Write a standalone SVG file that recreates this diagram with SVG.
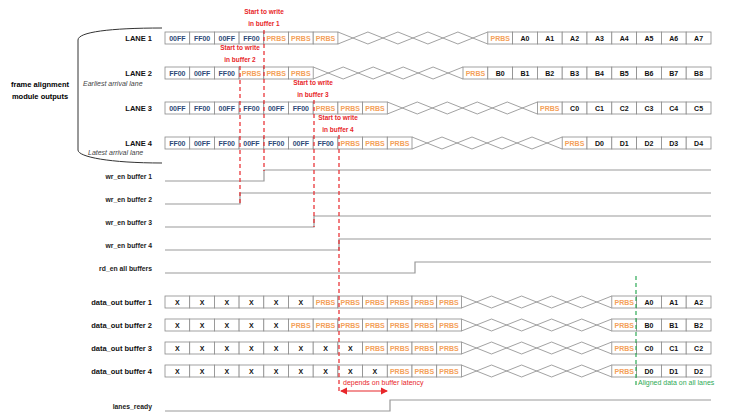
<svg xmlns="http://www.w3.org/2000/svg" width="738" height="417" viewBox="0 0 738 417">
<style>
text{font-family:"Liberation Sans",Arial,sans-serif}
.c{fill:#fff;stroke:#8a8a8a;stroke-width:0.8}
.b{fill:#2e4a78;font-size:7px;font-weight:bold;text-anchor:middle}
.o{fill:#f4a15a;font-size:7px;font-weight:bold;text-anchor:middle}
.k{fill:#111;font-size:7px;font-weight:bold;text-anchor:middle}
.x{fill:none;stroke:#8a8a8a;stroke-width:0.8}
.lb{font-size:7.5px;font-weight:bold;fill:#111;text-anchor:end}
.sl{font-size:6.8px;font-weight:bold;fill:#222;text-anchor:end}
.it{font-size:7px;font-style:italic;fill:#444}
.r{font-size:6.5px;font-weight:bold;fill:#e8262a;text-anchor:middle}
.sig{fill:none;stroke:#999;stroke-width:1.2}
.rd{stroke:#e8262a;stroke-width:1.2;stroke-dasharray:4,3;fill:none}
.gd{stroke:#2eaa55;stroke-width:1.2;stroke-dasharray:4,3;fill:none}
</style>
<defs>
<marker id="ah" markerWidth="6" markerHeight="6" refX="5" refY="3" orient="auto-start-reverse"><path d="M0,0 L6,3 L0,6z" fill="#e8262a"/></marker>
</defs>
<g id="brace">
<path d="M162,28 C110,28 78,32 78,40 L78,150 C78,157 110,163 162,163" fill="none" stroke="#333" stroke-width="1"/>
<text x="40" y="87" style="font-size:7.5px;font-weight:bold;text-anchor:middle">frame alignment</text>
<text x="40" y="99" style="font-size:7.5px;font-weight:bold;text-anchor:middle">module outputs</text>
<text class="it" x="83" y="86">Earliest arrival lane</text>
<text class="it" x="88" y="155">Latest arrival lane</text>
</g>
<g id="lane1">
<text class="lb" x="152" y="41">LANE 1</text>
<rect class="c" x="165" y="32" width="24.7" height="12"/><text class="b" x="177.35" y="41">00FF</text>
<rect class="c" x="189.7" y="32" width="24.7" height="12"/><text class="b" x="202.05" y="41">FF00</text>
<rect class="c" x="214.4" y="32" width="24.7" height="12"/><text class="b" x="226.75" y="41">00FF</text>
<rect class="c" x="239.1" y="32" width="24.7" height="12"/><text class="b" x="251.45" y="41">FF00</text>
<rect class="c" x="263.8" y="32" width="24.7" height="12"/><text class="o" x="276.15" y="41">PRBS</text>
<rect class="c" x="288.5" y="32" width="24.7" height="12"/><text class="o" x="300.85" y="41">PRBS</text>
<rect class="c" x="313.2" y="32" width="24.7" height="12"/><text class="o" x="325.55" y="41">PRBS</text>
<path class="x" d="M337.9,32 L367.9,44 L397.9,32 L427.9,44 L457.9,32 L487.8,44 M337.9,44 L367.9,32 L397.9,44 L427.9,32 L457.9,44 L487.8,32"/>
<rect class="c" x="487.8" y="32" width="24.8" height="12"/><text class="o" x="500.2" y="41">PRBS</text>
<rect class="c" x="512.6" y="32" width="24.8" height="12"/><text class="k" x="525" y="41">A0</text>
<rect class="c" x="537.4" y="32" width="24.8" height="12"/><text class="k" x="549.8" y="41">A1</text>
<rect class="c" x="562.2" y="32" width="24.8" height="12"/><text class="k" x="574.6" y="41">A2</text>
<rect class="c" x="587" y="32" width="24.8" height="12"/><text class="k" x="599.4" y="41">A3</text>
<rect class="c" x="611.8" y="32" width="24.8" height="12"/><text class="k" x="624.2" y="41">A4</text>
<rect class="c" x="636.6" y="32" width="24.8" height="12"/><text class="k" x="649" y="41">A5</text>
<rect class="c" x="661.4" y="32" width="24.8" height="12"/><text class="k" x="673.8" y="41">A6</text>
<rect class="c" x="686.2" y="32" width="24.8" height="12"/><text class="k" x="698.6" y="41">A7</text>
</g>
<g id="lane2">
<text class="lb" x="152" y="76">LANE 2</text>
<rect class="c" x="165" y="67" width="24.7" height="12"/><text class="b" x="177.35" y="76">FF00</text>
<rect class="c" x="189.7" y="67" width="24.7" height="12"/><text class="b" x="202.05" y="76">00FF</text>
<rect class="c" x="214.4" y="67" width="24.7" height="12"/><text class="b" x="226.75" y="76">FF00</text>
<rect class="c" x="239.1" y="67" width="24.7" height="12"/><text class="o" x="251.45" y="76">PRBS</text>
<rect class="c" x="263.8" y="67" width="24.7" height="12"/><text class="o" x="276.15" y="76">PRBS</text>
<rect class="c" x="288.5" y="67" width="24.7" height="12"/><text class="o" x="300.85" y="76">PRBS</text>
<path class="x" d="M313.2,67 L343.2,79 L373.2,67 L403.2,79 L433.1,67 L463,79 M313.2,79 L343.2,67 L373.2,79 L403.2,67 L433.1,79 L463,67"/>
<rect class="c" x="463" y="67" width="24.8" height="12"/><text class="o" x="475.4" y="76">PRBS</text>
<rect class="c" x="487.8" y="67" width="24.8" height="12"/><text class="k" x="500.2" y="76">B0</text>
<rect class="c" x="512.6" y="67" width="24.8" height="12"/><text class="k" x="525" y="76">B1</text>
<rect class="c" x="537.4" y="67" width="24.8" height="12"/><text class="k" x="549.8" y="76">B2</text>
<rect class="c" x="562.2" y="67" width="24.8" height="12"/><text class="k" x="574.6" y="76">B3</text>
<rect class="c" x="587" y="67" width="24.8" height="12"/><text class="k" x="599.4" y="76">B4</text>
<rect class="c" x="611.8" y="67" width="24.8" height="12"/><text class="k" x="624.2" y="76">B5</text>
<rect class="c" x="636.6" y="67" width="24.8" height="12"/><text class="k" x="649" y="76">B6</text>
<rect class="c" x="661.4" y="67" width="24.8" height="12"/><text class="k" x="673.8" y="76">B7</text>
<rect class="c" x="686.2" y="67" width="24.8" height="12"/><text class="k" x="698.6" y="76">B8</text>
</g>
<g id="lane3">
<text class="lb" x="152" y="111">LANE 3</text>
<rect class="c" x="165" y="102" width="24.7" height="12"/><text class="b" x="177.35" y="111">00FF</text>
<rect class="c" x="189.7" y="102" width="24.7" height="12"/><text class="b" x="202.05" y="111">FF00</text>
<rect class="c" x="214.4" y="102" width="24.7" height="12"/><text class="b" x="226.75" y="111">00FF</text>
<rect class="c" x="239.1" y="102" width="24.7" height="12"/><text class="b" x="251.45" y="111">FF00</text>
<rect class="c" x="263.8" y="102" width="24.7" height="12"/><text class="b" x="276.15" y="111">00FF</text>
<rect class="c" x="288.5" y="102" width="24.7" height="12"/><text class="b" x="300.85" y="111">FF00</text>
<rect class="c" x="313.2" y="102" width="24.7" height="12"/><text class="o" x="325.55" y="111">PRBS</text>
<rect class="c" x="337.9" y="102" width="24.7" height="12"/><text class="o" x="350.25" y="111">PRBS</text>
<rect class="c" x="362.6" y="102" width="24.7" height="12"/><text class="o" x="374.95" y="111">PRBS</text>
<path class="x" d="M387.3,102 L417.3,114 L447.3,102 L477.3,114 L507.3,102 L537.4,114 M387.3,114 L417.3,102 L447.3,114 L477.3,102 L507.3,114 L537.4,102"/>
<rect class="c" x="537.4" y="102" width="24.8" height="12"/><text class="o" x="549.8" y="111">PRBS</text>
<rect class="c" x="562.2" y="102" width="24.8" height="12"/><text class="k" x="574.6" y="111">C0</text>
<rect class="c" x="587" y="102" width="24.8" height="12"/><text class="k" x="599.4" y="111">C1</text>
<rect class="c" x="611.8" y="102" width="24.8" height="12"/><text class="k" x="624.2" y="111">C2</text>
<rect class="c" x="636.6" y="102" width="24.8" height="12"/><text class="k" x="649" y="111">C3</text>
<rect class="c" x="661.4" y="102" width="24.8" height="12"/><text class="k" x="673.8" y="111">C4</text>
<rect class="c" x="686.2" y="102" width="24.8" height="12"/><text class="k" x="698.6" y="111">C5</text>
</g>
<g id="lane4">
<text class="lb" x="152" y="146">LANE 4</text>
<rect class="c" x="165" y="137" width="24.7" height="12"/><text class="b" x="177.35" y="146">FF00</text>
<rect class="c" x="189.7" y="137" width="24.7" height="12"/><text class="b" x="202.05" y="146">00FF</text>
<rect class="c" x="214.4" y="137" width="24.7" height="12"/><text class="b" x="226.75" y="146">FF00</text>
<rect class="c" x="239.1" y="137" width="24.7" height="12"/><text class="b" x="251.45" y="146">00FF</text>
<rect class="c" x="263.8" y="137" width="24.7" height="12"/><text class="b" x="276.15" y="146">FF00</text>
<rect class="c" x="288.5" y="137" width="24.7" height="12"/><text class="b" x="300.85" y="146">00FF</text>
<rect class="c" x="313.2" y="137" width="24.7" height="12"/><text class="b" x="325.55" y="146">FF00</text>
<rect class="c" x="337.9" y="137" width="24.7" height="12"/><text class="o" x="350.25" y="146">PRBS</text>
<rect class="c" x="362.6" y="137" width="24.7" height="12"/><text class="o" x="374.95" y="146">PRBS</text>
<rect class="c" x="387.3" y="137" width="24.7" height="12"/><text class="o" x="399.65" y="146">PRBS</text>
<path class="x" d="M412,137 L442,149 L472,137 L502,149 L532,137 L562.2,149 M412,149 L442,137 L472,149 L502,137 L532,149 L562.2,137"/>
<rect class="c" x="562.2" y="137" width="24.8" height="12"/><text class="o" x="574.6" y="146">PRBS</text>
<rect class="c" x="587" y="137" width="24.8" height="12"/><text class="k" x="599.4" y="146">D0</text>
<rect class="c" x="611.8" y="137" width="24.8" height="12"/><text class="k" x="624.2" y="146">D1</text>
<rect class="c" x="636.6" y="137" width="24.8" height="12"/><text class="k" x="649" y="146">D2</text>
<rect class="c" x="661.4" y="137" width="24.8" height="12"/><text class="k" x="673.8" y="146">D3</text>
<rect class="c" x="686.2" y="137" width="24.8" height="12"/><text class="k" x="698.6" y="146">D4</text>
</g>
<g id="signals">
<text class="sl" x="152" y="179">wr_en buffer 1</text>
<path class="sig" d="M165,181 H264 V170 H711"/>
<text class="sl" x="152" y="202">wr_en buffer 2</text>
<path class="sig" d="M165,204 H240 V193 H711"/>
<text class="sl" x="152" y="225">wr_en buffer 3</text>
<path class="sig" d="M165,227 H314 V216 H711"/>
<text class="sl" x="152" y="248">wr_en buffer 4</text>
<path class="sig" d="M165,250 H339 V239 H711"/>
<text class="sl" x="152" y="271">rd_en  all buffers</text>
<path class="sig" d="M165,273 H415 V262 H711"/>
<text class="sl" x="152" y="409">lanes_ready</text>
<path class="sig" d="M165,411 H390 V400 H711"/>
</g>
<g id="dout1">
<text class="lb" x="152" y="305">data_out buffer 1</text>
<rect class="c" x="165" y="296" width="24.7" height="12"/><text class="k" x="177.35" y="305">X</text>
<rect class="c" x="189.7" y="296" width="24.7" height="12"/><text class="k" x="202.05" y="305">X</text>
<rect class="c" x="214.4" y="296" width="24.7" height="12"/><text class="k" x="226.75" y="305">X</text>
<rect class="c" x="239.1" y="296" width="24.7" height="12"/><text class="k" x="251.45" y="305">X</text>
<rect class="c" x="263.8" y="296" width="24.7" height="12"/><text class="k" x="276.15" y="305">X</text>
<rect class="c" x="288.5" y="296" width="24.7" height="12"/><text class="k" x="300.85" y="305">X</text>
<rect class="c" x="313.2" y="296" width="24.7" height="12"/><text class="o" x="325.55" y="305">PRBS</text>
<rect class="c" x="337.9" y="296" width="24.7" height="12"/><text class="o" x="350.25" y="305">PRBS</text>
<rect class="c" x="362.6" y="296" width="24.7" height="12"/><text class="o" x="374.95" y="305">PRBS</text>
<rect class="c" x="387.3" y="296" width="24.7" height="12"/><text class="o" x="399.65" y="305">PRBS</text>
<rect class="c" x="412" y="296" width="24.7" height="12"/><text class="o" x="424.35" y="305">PRBS</text>
<rect class="c" x="436.7" y="296" width="24.7" height="12"/><text class="o" x="449.05" y="305">PRBS</text>
<path class="x" d="M461.4,296 L491.5,308 L521.6,296 L551.6,308 L581.7,296 L611.8,308 M461.4,308 L491.5,296 L521.6,308 L551.6,296 L581.7,308 L611.8,296"/>
<rect class="c" x="611.8" y="296" width="24.8" height="12"/><text class="o" x="624.2" y="305">PRBS</text>
<rect class="c" x="636.6" y="296" width="24.8" height="12"/><text class="k" x="649" y="305">A0</text>
<rect class="c" x="661.4" y="296" width="24.8" height="12"/><text class="k" x="673.8" y="305">A1</text>
<rect class="c" x="686.2" y="296" width="24.8" height="12"/><text class="k" x="698.6" y="305">A2</text>
</g>
<g id="dout2">
<text class="lb" x="152" y="328">data_out buffer 2</text>
<rect class="c" x="165" y="319" width="24.7" height="12"/><text class="k" x="177.35" y="328">X</text>
<rect class="c" x="189.7" y="319" width="24.7" height="12"/><text class="k" x="202.05" y="328">X</text>
<rect class="c" x="214.4" y="319" width="24.7" height="12"/><text class="k" x="226.75" y="328">X</text>
<rect class="c" x="239.1" y="319" width="24.7" height="12"/><text class="k" x="251.45" y="328">X</text>
<rect class="c" x="263.8" y="319" width="24.7" height="12"/><text class="k" x="276.15" y="328">X</text>
<rect class="c" x="288.5" y="319" width="24.7" height="12"/><text class="o" x="300.85" y="328">PRBS</text>
<rect class="c" x="313.2" y="319" width="24.7" height="12"/><text class="o" x="325.55" y="328">PRBS</text>
<rect class="c" x="337.9" y="319" width="24.7" height="12"/><text class="o" x="350.25" y="328">PRBS</text>
<rect class="c" x="362.6" y="319" width="24.7" height="12"/><text class="o" x="374.95" y="328">PRBS</text>
<rect class="c" x="387.3" y="319" width="24.7" height="12"/><text class="o" x="399.65" y="328">PRBS</text>
<rect class="c" x="412" y="319" width="24.7" height="12"/><text class="o" x="424.35" y="328">PRBS</text>
<rect class="c" x="436.7" y="319" width="24.7" height="12"/><text class="o" x="449.05" y="328">PRBS</text>
<path class="x" d="M461.4,319 L491.5,331 L521.6,319 L551.6,331 L581.7,319 L611.8,331 M461.4,331 L491.5,319 L521.6,331 L551.6,319 L581.7,331 L611.8,319"/>
<rect class="c" x="611.8" y="319" width="24.8" height="12"/><text class="o" x="624.2" y="328">PRBS</text>
<rect class="c" x="636.6" y="319" width="24.8" height="12"/><text class="k" x="649" y="328">B0</text>
<rect class="c" x="661.4" y="319" width="24.8" height="12"/><text class="k" x="673.8" y="328">B1</text>
<rect class="c" x="686.2" y="319" width="24.8" height="12"/><text class="k" x="698.6" y="328">B2</text>
</g>
<g id="dout3">
<text class="lb" x="152" y="351">data_out buffer 3</text>
<rect class="c" x="165" y="342" width="24.7" height="12"/><text class="k" x="177.35" y="351">X</text>
<rect class="c" x="189.7" y="342" width="24.7" height="12"/><text class="k" x="202.05" y="351">X</text>
<rect class="c" x="214.4" y="342" width="24.7" height="12"/><text class="k" x="226.75" y="351">X</text>
<rect class="c" x="239.1" y="342" width="24.7" height="12"/><text class="k" x="251.45" y="351">X</text>
<rect class="c" x="263.8" y="342" width="24.7" height="12"/><text class="k" x="276.15" y="351">X</text>
<rect class="c" x="288.5" y="342" width="24.7" height="12"/><text class="k" x="300.85" y="351">X</text>
<rect class="c" x="313.2" y="342" width="24.7" height="12"/><text class="k" x="325.55" y="351">X</text>
<rect class="c" x="337.9" y="342" width="24.7" height="12"/><text class="k" x="350.25" y="351">X</text>
<rect class="c" x="362.6" y="342" width="24.7" height="12"/><text class="o" x="374.95" y="351">PRBS</text>
<rect class="c" x="387.3" y="342" width="24.7" height="12"/><text class="o" x="399.65" y="351">PRBS</text>
<rect class="c" x="412" y="342" width="24.7" height="12"/><text class="o" x="424.35" y="351">PRBS</text>
<rect class="c" x="436.7" y="342" width="24.7" height="12"/><text class="o" x="449.05" y="351">PRBS</text>
<path class="x" d="M461.4,342 L491.5,354 L521.6,342 L551.6,354 L581.7,342 L611.8,354 M461.4,354 L491.5,342 L521.6,354 L551.6,342 L581.7,354 L611.8,342"/>
<rect class="c" x="611.8" y="342" width="24.8" height="12"/><text class="o" x="624.2" y="351">PRBS</text>
<rect class="c" x="636.6" y="342" width="24.8" height="12"/><text class="k" x="649" y="351">C0</text>
<rect class="c" x="661.4" y="342" width="24.8" height="12"/><text class="k" x="673.8" y="351">C1</text>
<rect class="c" x="686.2" y="342" width="24.8" height="12"/><text class="k" x="698.6" y="351">C2</text>
</g>
<g id="dout4">
<text class="lb" x="152" y="374">data_out buffer 4</text>
<rect class="c" x="165" y="365" width="24.7" height="12"/><text class="k" x="177.35" y="374">X</text>
<rect class="c" x="189.7" y="365" width="24.7" height="12"/><text class="k" x="202.05" y="374">X</text>
<rect class="c" x="214.4" y="365" width="24.7" height="12"/><text class="k" x="226.75" y="374">X</text>
<rect class="c" x="239.1" y="365" width="24.7" height="12"/><text class="k" x="251.45" y="374">X</text>
<rect class="c" x="263.8" y="365" width="24.7" height="12"/><text class="k" x="276.15" y="374">X</text>
<rect class="c" x="288.5" y="365" width="24.7" height="12"/><text class="k" x="300.85" y="374">X</text>
<rect class="c" x="313.2" y="365" width="24.7" height="12"/><text class="k" x="325.55" y="374">X</text>
<rect class="c" x="337.9" y="365" width="24.7" height="12"/><text class="k" x="350.25" y="374">X</text>
<rect class="c" x="362.6" y="365" width="24.7" height="12"/><text class="k" x="374.95" y="374">X</text>
<rect class="c" x="387.3" y="365" width="24.7" height="12"/><text class="o" x="399.65" y="374">PRBS</text>
<rect class="c" x="412" y="365" width="24.7" height="12"/><text class="o" x="424.35" y="374">PRBS</text>
<rect class="c" x="436.7" y="365" width="24.7" height="12"/><text class="o" x="449.05" y="374">PRBS</text>
<path class="x" d="M461.4,365 L491.5,377 L521.6,365 L551.6,377 L581.7,365 L611.8,377 M461.4,377 L491.5,365 L521.6,377 L551.6,365 L581.7,377 L611.8,365"/>
<rect class="c" x="611.8" y="365" width="24.8" height="12"/><text class="o" x="624.2" y="374">PRBS</text>
<rect class="c" x="636.6" y="365" width="24.8" height="12"/><text class="k" x="649" y="374">D0</text>
<rect class="c" x="661.4" y="365" width="24.8" height="12"/><text class="k" x="673.8" y="374">D1</text>
<rect class="c" x="686.2" y="365" width="24.8" height="12"/><text class="k" x="698.6" y="374">D2</text>
</g>
<g id="connectors">
<path class="rd" d="M264,30 V171"/>
<path class="rd" d="M240,66 V204"/>
<path class="rd" d="M314,100 V227"/>
<path class="rd" d="M339,135 V392"/>
<path class="gd" d="M636,276 V385"/>
<path d="M341,391 H387" stroke="#e8262a" stroke-width="1.2" marker-start="url(#ah)" marker-end="url(#ah)"/>
</g>
<g id="annotations">
<text class="r" x="264" y="14">Start to write</text><text class="r" x="264" y="26">in buffer 1</text>
<text class="r" x="240" y="50">Start to write</text><text class="r" x="240" y="62">in buffer 2</text>
<text class="r" x="313" y="85">Start to write</text><text class="r" x="313" y="97">in buffer 3</text>
<text class="r" x="338" y="120">Start to write</text><text class="r" x="338" y="132">in buffer 4</text>
<text x="343" y="385" style="font-size:7px;fill:#e8262a">depends on buffer latency</text>
<text x="638" y="385" style="font-size:7px;fill:#2eaa55">Aligned data on all lanes</text>
</g>
</svg>
